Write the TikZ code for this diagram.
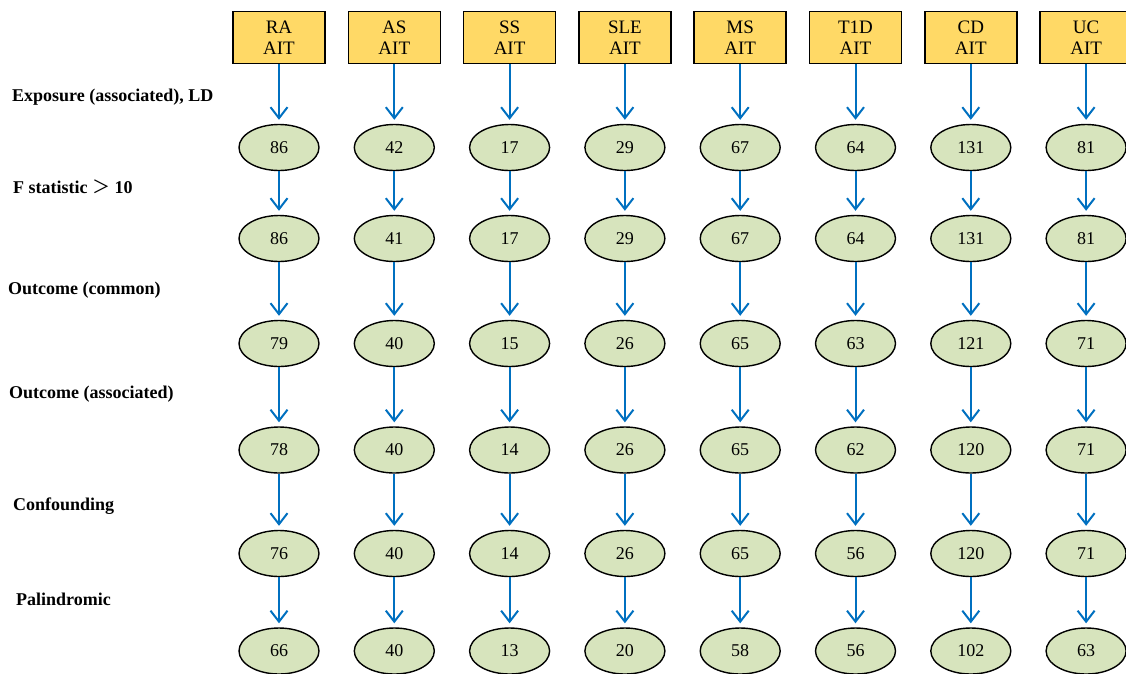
\documentclass[tikz,border=0pt]{standalone}
\usepackage{fontspec}
\setmainfont{Liberation Serif}
\newfontfamily\cjk{Noto Sans CJK SC}
\usetikzlibrary{shapes.geometric,arrows.meta}

\definecolor{traitfill}{HTML}{FFD966}
\definecolor{countfill}{HTML}{D7E4BD}
\definecolor{flowblue}{HTML}{0070C0}

\tikzset{
  trait/.style={draw, line width=1.5pt, fill=traitfill, minimum width=92pt, minimum height=52pt,
    inner sep=0pt, align=center, font=\fontsize{19}{21.5}\selectfont},
  count/.style={ellipse, draw, line width=1.4pt, fill=countfill, minimum width=80pt,
    minimum height=46pt, inner sep=0pt, font=\fontsize{18}{20}\selectfont},
  flow/.style={draw=flowblue, line width=2pt, -{Straight Barb[length=11pt,width=17pt]}, shorten >=4pt},
  stagelabel/.style={anchor=west, inner sep=0pt, font=\fontsize{18}{21}\selectfont\bfseries}
}

\begin{document}
\begin{tikzpicture}[x=1pt,y=-1pt]
\useasboundingbox (0,0) rectangle (1126,673);

% Filtering steps
\node[stagelabel] (exp) at (12,97) {Exposure (associated), LD};
\node[stagelabel] (fst) at (13,187) {F statistic {\cjk\mdseries ＞} 10};
\node[stagelabel] (ocom) at (8,290) {Outcome (common)};
\node[stagelabel] (oass) at (9,394) {Outcome (associated)};
\node[stagelabel] (conf) at (13,506) {Confounding};
\node[stagelabel] (pal) at (16,599) {Palindromic};

% Exposures
\node[trait] (ra) at (279,37.5) {RA\\AIT};
\node[trait] (as) at (394.3,37.5) {AS\\AIT};
\node[trait] (ss) at (509.6,37.5) {SS\\AIT};
\node[trait] (sle) at (624.9,37.5) {SLE\\AIT};
\node[trait] (ms) at (740.2,37.5) {MS\\AIT};
\node[trait] (tid) at (855.5,37.5) {T1D\\AIT};
\node[trait] (cd) at (970.8,37.5) {CD\\AIT};
\node[trait] (uc) at (1086.1,37.5) {UC\\AIT};

% RA
\node[count] (ra1) at (279,147.5) {86};
\node[count] (ra2) at (279,238.5) {86};
\node[count] (ra3) at (279,343.5) {79};
\node[count] (ra4) at (279,450) {78};
\node[count] (ra5) at (279,553.5) {76};
\node[count] (ra6) at (279,651) {66};

% AS
\node[count] (as1) at (394.3,147.5) {42};
\node[count] (as2) at (394.3,238.5) {41};
\node[count] (as3) at (394.3,343.5) {40};
\node[count] (as4) at (394.3,450) {40};
\node[count] (as5) at (394.3,553.5) {40};
\node[count] (as6) at (394.3,651) {40};

% SS
\node[count] (ss1) at (509.6,147.5) {17};
\node[count] (ss2) at (509.6,238.5) {17};
\node[count] (ss3) at (509.6,343.5) {15};
\node[count] (ss4) at (509.6,450) {14};
\node[count] (ss5) at (509.6,553.5) {14};
\node[count] (ss6) at (509.6,651) {13};

% SLE
\node[count] (sle1) at (624.9,147.5) {29};
\node[count] (sle2) at (624.9,238.5) {29};
\node[count] (sle3) at (624.9,343.5) {26};
\node[count] (sle4) at (624.9,450) {26};
\node[count] (sle5) at (624.9,553.5) {26};
\node[count] (sle6) at (624.9,651) {20};

% MS
\node[count] (ms1) at (740.2,147.5) {67};
\node[count] (ms2) at (740.2,238.5) {67};
\node[count] (ms3) at (740.2,343.5) {65};
\node[count] (ms4) at (740.2,450) {65};
\node[count] (ms5) at (740.2,553.5) {65};
\node[count] (ms6) at (740.2,651) {58};

% T1D
\node[count] (tid1) at (855.5,147.5) {64};
\node[count] (tid2) at (855.5,238.5) {64};
\node[count] (tid3) at (855.5,343.5) {63};
\node[count] (tid4) at (855.5,450) {62};
\node[count] (tid5) at (855.5,553.5) {56};
\node[count] (tid6) at (855.5,651) {56};

% CD
\node[count] (cd1) at (970.8,147.5) {131};
\node[count] (cd2) at (970.8,238.5) {131};
\node[count] (cd3) at (970.8,343.5) {121};
\node[count] (cd4) at (970.8,450) {120};
\node[count] (cd5) at (970.8,553.5) {120};
\node[count] (cd6) at (970.8,651) {102};

% UC
\node[count] (uc1) at (1086.1,147.5) {81};
\node[count] (uc2) at (1086.1,238.5) {81};
\node[count] (uc3) at (1086.1,343.5) {71};
\node[count] (uc4) at (1086.1,450) {71};
\node[count] (uc5) at (1086.1,553.5) {71};
\node[count] (uc6) at (1086.1,651) {63};

% Arrows
\draw[flow] (ra) edge (ra1) (ra1) edge (ra2) (ra2) edge (ra3) (ra3) edge (ra4) (ra4) edge (ra5) (ra5) edge (ra6);
\draw[flow] (as) edge (as1) (as1) edge (as2) (as2) edge (as3) (as3) edge (as4) (as4) edge (as5) (as5) edge (as6);
\draw[flow] (ss) edge (ss1) (ss1) edge (ss2) (ss2) edge (ss3) (ss3) edge (ss4) (ss4) edge (ss5) (ss5) edge (ss6);
\draw[flow] (sle) edge (sle1) (sle1) edge (sle2) (sle2) edge (sle3) (sle3) edge (sle4) (sle4) edge (sle5) (sle5) edge (sle6);
\draw[flow] (ms) edge (ms1) (ms1) edge (ms2) (ms2) edge (ms3) (ms3) edge (ms4) (ms4) edge (ms5) (ms5) edge (ms6);
\draw[flow] (tid) edge (tid1) (tid1) edge (tid2) (tid2) edge (tid3) (tid3) edge (tid4) (tid4) edge (tid5) (tid5) edge (tid6);
\draw[flow] (cd) edge (cd1) (cd1) edge (cd2) (cd2) edge (cd3) (cd3) edge (cd4) (cd4) edge (cd5) (cd5) edge (cd6);
\draw[flow] (uc) edge (uc1) (uc1) edge (uc2) (uc2) edge (uc3) (uc3) edge (uc4) (uc4) edge (uc5) (uc5) edge (uc6);
\end{tikzpicture}
\end{document}
